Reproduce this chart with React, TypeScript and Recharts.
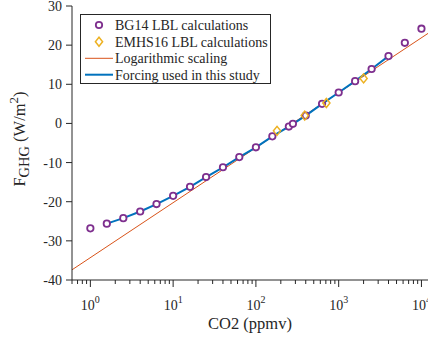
import React from 'react';
import { ComposedChart, Line, Scatter, XAxis, YAxis, Legend } from 'recharts';

const FONT = "'Liberation Serif', 'Times New Roman', serif";
const INK = '#262626';

// BG14 LBL calculations (purple circles)
const bg14Co2 = [1, 1.58, 2.5, 4, 6.3, 10, 16, 25, 40, 63, 100, 158, 250, 280, 400, 630, 1000, 1580, 2500, 4000, 6300, 10000];
const bg14Forcing = [-26.8, -25.6, -24.2, -22.5, -20.6, -18.5, -16.2, -13.7, -11.2, -8.6, -6.1, -3.3, -0.8, -0.1, 2.0, 5.0, 7.9, 10.8, 13.9, 17.2, 20.6, 24.2];

// EMHS16 LBL calculations (yellow diamonds)
const emhsCo2 = [180, 389, 710, 2000];
const emhsForcing = [-1.9, 2.0, 5.2, 11.5];

// Logarithmic scaling (orange line)
const logCo2 = [0.6, 12000];
const logForcing = [-37.4, 23.0];

// Forcing used in this study (blue line)
const studyCo2 = [1.58, 2.5, 4, 6.3, 10, 16, 25, 40, 63, 100, 158, 250, 400, 630, 1000, 1580, 2500, 4000];
const studyForcing = [-25.6, -24.2, -22.5, -20.6, -18.5, -16.2, -13.7, -11.2, -8.6, -6.1, -3.3, -0.8, 2.0, 5.0, 7.9, 10.8, 13.9, 17.2];

const xMajorTicks = [1, 10, 100, 1000, 10000];
const xMinorTicks = [0.6, 0.7, 0.8, 0.9, 2, 3, 4, 5, 6, 7, 8, 9, 20, 30, 40, 50, 60, 70, 80, 90, 200, 300, 400, 500, 600, 700, 800, 900, 2000, 3000, 4000, 5000, 6000, 7000, 8000, 9000];
const yTicks = [-40, -30, -20, -10, 0, 10, 20, 30];
const xDomain = [0.6, 12000];
const yDomain = [-40, 30];

const legendLabels = ['BG14 LBL calculations', 'EMHS16 LBL calculations', 'Logarithmic scaling', 'Forcing used in this study'];

const COLORS = { bg14: '#7E2F8E', emhs: '#EDB120', log: '#D95319', study: '#0072BD' };

const zip = (xs: number[], ys: number[]) => xs.map((x, i) => ({ x, y: ys[i] }));
const bg14Data = zip(bg14Co2, bg14Forcing);
const emhsData = zip(emhsCo2, emhsForcing);
const logData = zip(logCo2, logForcing);
const studyData = zip(studyCo2, studyForcing);
const allXTicks = [...xMinorTicks, ...xMajorTicks].sort((a, b) => a - b);

const XTick = (props: any) => {
  const { x, y, payload } = props;
  const v = payload.value as number;
  const lg = Math.log10(v);
  const exp = Math.round(lg);
  const isMajor = Math.abs(lg - exp) < 1e-6;
  return (
    <g>
      <line x1={x} x2={x} y1={y} y2={y + (isMajor ? 7 : 4)} stroke={INK} strokeWidth={1} />
      {isMajor && (
        <text x={x} y={y + 30} textAnchor="middle" fontFamily={FONT} fontSize={14} fill={INK}>
          10<tspan dy={-7} fontSize={10}>{exp}</tspan>
        </text>
      )}
    </g>
  );
};

const CircleShape = (props: any) => (
  <circle cx={props.cx} cy={props.cy} r={3.2} fill="#fff" stroke={COLORS.bg14} strokeWidth={1.8} />
);

const DiamondShape = (props: any) => {
  const { cx, cy } = props;
  const s = 4.5;
  return (
    <polygon
      points={`${cx},${cy - s} ${cx + s * 0.8},${cy} ${cx},${cy + s} ${cx - s * 0.8},${cy}`}
      fill="none"
      stroke={COLORS.emhs}
      strokeWidth={1.5}
    />
  );
};

const LegendBox = () => {
  const rows = [11, 27.7, 44.3, 60.7];
  return (
    <svg width={191} height={70} style={{ display: 'block' }}>
      <rect x={0.5} y={0.5} width={190} height={69} fill="#fff" stroke={INK} strokeWidth={1} />
      <circle cx={19} cy={rows[0]} r={3.2} fill="#fff" stroke={COLORS.bg14} strokeWidth={1.8} />
      <polygon
        points={`19,${rows[1] - 4.5} 22.6,${rows[1]} 19,${rows[1] + 4.5} 15.4,${rows[1]}`}
        fill="none"
        stroke={COLORS.emhs}
        strokeWidth={1.5}
      />
      <line x1={5} x2={33} y1={rows[2]} y2={rows[2]} stroke={COLORS.log} strokeWidth={1} />
      <line x1={5} x2={33} y1={rows[3]} y2={rows[3]} stroke={COLORS.study} strokeWidth={2} />
      {legendLabels.map((t, i) => (
        <text key={t} x={35} y={rows[i] + 4.8} fontFamily={FONT} fontSize={14} fill={INK}>
          {t}
        </text>
      ))}
    </svg>
  );
};

const YLabel = (props: any) => {
  const cx = 25;
  const cy = 139;
  return (
    <text
      x={cx}
      y={cy}
      transform={`rotate(-90 ${cx} ${cy})`}
      textAnchor="middle"
      fontFamily={FONT}
      fontSize={16.5}
      fill={INK}
    >
      F<tspan dy={4} fontSize={14.5}>GHG</tspan>
      <tspan dy={-4}> (W/m</tspan>
      <tspan dy={-7} fontSize={13}>2</tspan>
      <tspan dy={7}>)</tspan>
    </text>
  );
};

const XLabel = (props: any) => {
  const vb = props.viewBox;
  return (
    <text x={vb.x + vb.width / 2} y={329} textAnchor="middle" fontFamily={FONT} fontSize={16.5} fill={INK}>
      CO2 (ppmv)
    </text>
  );
};

export default function App() {
  return (
    <div style={{ position: 'absolute', left: 0, top: 0, background: '#fff' }}>
      <ComposedChart width={428} height={338} margin={{ top: 6, right: 0, bottom: 0, left: 0 }}>
        <XAxis
          dataKey="x"
          type="number"
          scale="log"
          domain={xDomain}
          allowDataOverflow
          ticks={allXTicks}
          interval={0}
          tick={<XTick />}
          tickLine={false}
          tickSize={0}
          tickMargin={0}
          height={58}
          axisLine={{ stroke: INK, strokeWidth: 1 }}
          label={{ content: XLabel }}
        />
        <YAxis
          dataKey="y"
          type="number"
          domain={yDomain}
          allowDataOverflow
          ticks={yTicks}
          interval={0}
          width={72}
          tickSize={6}
          tickMargin={4}
          tickLine={{ stroke: INK }}
          axisLine={{ stroke: INK, strokeWidth: 1 }}
          tick={{ fill: INK, fontSize: 14, fontFamily: FONT }}
          label={{ content: YLabel }}
        />
        <Legend
          layout="vertical"
          align="center"
          verticalAlign="middle"
          wrapperStyle={{ position: 'absolute', left: 80, top: 14, width: 191, height: 70 }}
          content={() => <LegendBox />}
        />
        <Line
          data={logData}
          dataKey="y"
          type="linear"
          stroke={COLORS.log}
          strokeWidth={1}
          dot={false}
          activeDot={false}
          isAnimationActive={false}
        />
        <Line
          data={studyData}
          dataKey="y"
          type="linear"
          stroke={COLORS.study}
          strokeWidth={2}
          dot={false}
          activeDot={false}
          isAnimationActive={false}
        />
        <Scatter data={bg14Data} dataKey="y" shape={<CircleShape />} isAnimationActive={false} />
        <Scatter data={emhsData} dataKey="y" shape={<DiamondShape />} isAnimationActive={false} />
      </ComposedChart>
    </div>
  );
}
